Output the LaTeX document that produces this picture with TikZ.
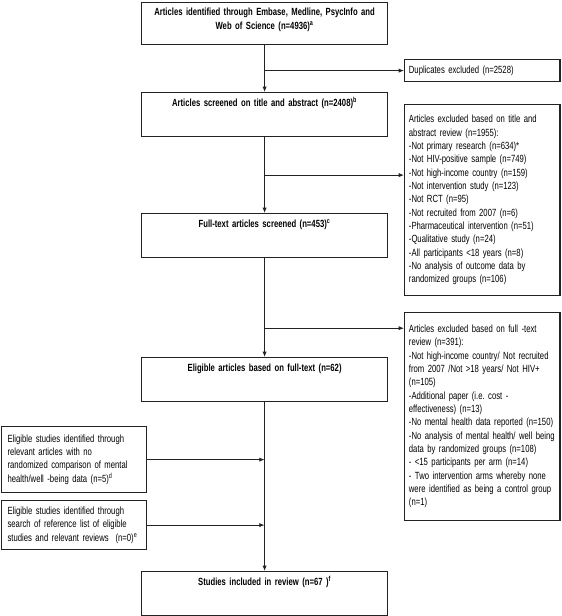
\documentclass[tikz,border=0pt]{standalone}
\usepackage{fontspec}
\setmainfont{Liberation Sans}[FakeStretch=0.74]
\usepackage{xcolor}
\usetikzlibrary{arrows.meta,calc,positioning}
\definecolor{flowline}{HTML}{222222}
\tikzset{
  flowbox/.style={draw=flowline,line width=0.9pt,anchor=north west,inner ysep=0pt,font=\fontsize{7.8pt}{10pt}\selectfont},
  mainbox/.style={flowbox,text width=178pt,inner xsep=3.25pt,align=center,font=\fontsize{7.8pt}{10pt}\selectfont\bfseries,text height=10.5pt,text depth=22.5pt},
  sidebox/.style={flowbox,text width=110pt,inner xsep=3.25pt,align=left},
  leftbox/.style={flowbox,text width=99.75pt,inner xsep=4.5pt,align=left},
  flowarrow/.style={-{Latex[length=4pt,width=3.2pt]},draw=flowline,line width=0.7pt}
}

\begin{document}
\begin{tikzpicture}[x=0.75pt,y=-0.75pt]
\useasboundingbox (0,0) rectangle (561,616);
\node[mainbox,text height=10pt,text depth=21.5pt] (ident) at (141,2) {Articles identified through Embase, Medline, PsycInfo and\\Web of Science (n=4936)\textsuperscript{a}};
\node[sidebox,minimum height=16.5pt] (dup) at (404,59) {Duplicates excluded (n=2528)};
\node[mainbox] (screen) at (141,92) {Articles screened on title and abstract (n=2408)\textsuperscript{b}};
\node[sidebox,minimum height=143.25pt] (exclabs) at (404,104) {Articles excluded based on title and\\abstract review (n=1955):\\-Not primary research (n=634)*\\-Not HIV-positive sample (n=749)\\-Not high-income country (n=159)\\-Not intervention study (n=123)\\-Not RCT (n=95)\\-Not recruited from 2007 (n=6)\\-Pharmaceutical intervention (n=51)\\-Qualitative study (n=24)\\-All participants <18 years (n=8)\\-No analysis of outcome data by\\randomized groups (n=106)};
\node[mainbox] (fulltext) at (141,213) {Full-text articles screened (n=453)\textsuperscript{c}};
\node[sidebox,minimum height=156pt] (exclfull) at (404,312) {Articles excluded based on full -text\\review (n=391):\\-Not high-income country/ Not recruited\\from 2007 /Not >18 years/ Not HIV+\\(n=105)\\-Additional paper (i.e.\ cost -\\effectiveness) (n=13)\\-No mental health data reported (n=150)\\-No analysis of mental health/ well being\\data by randomized groups (n=108)\\- <15 participants per arm (n=14)\\- Two intervention arms whereby none\\were identified as being a control group\\(n=1)};
\node[mainbox] (eligible) at (141,357) {Eligible articles based on full-text (n=62)};
\node[leftbox,minimum height=49.5pt] (norand) at (1,426) {Eligible studies identified through\\relevant articles with no\\randomized comparison of mental\\health/well -being data (n=5)\textsuperscript{d}};
\node[leftbox,minimum height=36.75pt] (reflist) at (1,500) {Eligible studies identified through\\search of reference list of eligible\\studies and relevant reviews~ (n=0)\textsuperscript{e}};
\node[mainbox] (included) at (141,571) {Studies included in review (n=67 )\textsuperscript{f}};
\coordinate (forkdup) at (ident.south |- dup.west);
\coordinate (forkabs) at ($(screen.south)!0.5!(fulltext.north)$);
\path (fulltext.south) ++(0,70) coordinate (forkfull);
\draw[flowarrow] (ident) -- (screen);
\draw[flowarrow] (forkdup) -- (dup);
\draw[flowarrow] (screen) -- (fulltext);
\draw[flowarrow] (forkabs) -- (forkabs -| exclabs.west);
\draw[flowarrow] (fulltext) -- (eligible);
\draw[flowarrow] (forkfull) -- (forkfull -| exclfull.west);
\draw[flowarrow] (eligible) -- (included);
\draw[flowarrow] (norand) -- (norand -| eligible.south);
\draw[flowarrow] (reflist) -- (reflist -| eligible.south);
\end{tikzpicture}
\end{document}
